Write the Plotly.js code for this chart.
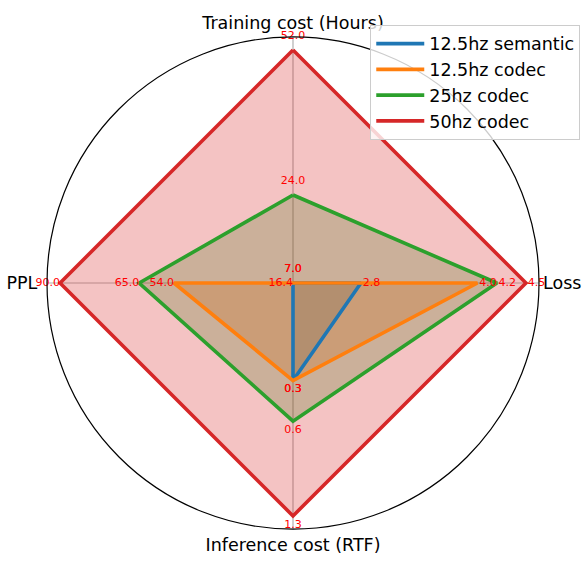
<!DOCTYPE html>
<html>
<head>
<meta charset="utf-8">
<script src="https://cdn.plot.ly/plotly-3.0.1.min.js"></script>
<style>html,body{margin:0;padding:0;background:#fff;}#chart{width:582px;height:563px;}</style>
</head>
<body>
<div id="chart"></div>
<script>
// ---- data ----
const axisNames = ["Training cost (Hours)", "Loss", "Inference cost (RTF)", "PPL"];
const seriesNames = ["12.5hz semantic", "12.5hz codec", "25hz codec", "50hz codec"];
const semantic125 = [7.0, 2.8, 0.3, 16.4];
const codec125 = [7.0, 4.0, 0.3, 54.0];
const codec25 = [24.0, 4.2, 0.6, 65.0];
const codec50 = [52.0, 4.5, 1.3, 90.0];
// per-axis scale (low, high) used to map each axis to the radius
const axisLow = [7.0, 2.1, -0.42, 16.4];
const axisHigh = [52.0, 4.5, 1.3, 90.0];

// ---- presentation ----
const angles = [90, 0, 270, 180];
const colors = ["#1f77b4", "#ff7f0e", "#2ca02c", "#d62728"];
const fills = ["rgba(31,119,180,0.27)", "rgba(255,127,14,0.27)", "rgba(44,160,44,0.27)", "rgba(214,39,40,0.28)"];
const labelOffset = [0.034, 0.045, 0.038, 0.0];
const labelPos = ["top center", "middle center", "middle center", "middle left"];
const tickLabels = axisNames.map((s, i) => i === 3 ? s + "\u00a0" : s);

const allSeries = [semantic125, codec125, codec25, codec50];
function norm(vals) { return vals.map((v, i) => (v - axisLow[i]) / (axisHigh[i] - axisLow[i])); }

const traces = [];
allSeries.forEach((vals, k) => {
  const r = norm(vals);
  traces.push({
    type: "scatterpolar", mode: "none",
    r: r.concat([r[0]]), theta: angles.concat([angles[0]]), thetaunit: "degrees",
    fill: "toself", fillcolor: fills[k],
    showlegend: false, hoverinfo: "skip"
  });
});
allSeries.forEach((vals, k) => {
  const r = norm(vals);
  traces.push({
    type: "scatterpolar", mode: "lines",
    r: r.concat([r[0]]), theta: angles.concat([angles[0]]), thetaunit: "degrees",
    name: seriesNames[k],
    line: {color: colors[k], width: 3.6},
    hoverinfo: "skip"
  });
});
allSeries.forEach((vals, k) => {
  const r = norm(vals).map((x, i) => x + labelOffset[i]);
  traces.push({
    type: "scatterpolar", mode: "text",
    r: r, theta: angles, thetaunit: "degrees",
    text: vals.map(v => v.toFixed(1)),
    textposition: labelPos, cliponaxis: false,
    textfont: {color: "red", size: 11, family: "DejaVu Sans"},
    showlegend: false, hoverinfo: "skip"
  });
});

const layout = {
  width: 582, height: 563,
  margin: {l: 47, r: 43, t: 37, b: 34, autoexpand: false},
  paper_bgcolor: "#fff",
  font: {family: "DejaVu Sans", color: "#000"},
  showlegend: true,
  legend: {
    xref: "container", yref: "container",
    x: 0.997, xanchor: "right", y: 0.956, yanchor: "top",
    bgcolor: "rgba(255,255,255,0.8)", bordercolor: "#cccccc", borderwidth: 1,
    font: {size: 17.5, family: "DejaVu Sans"}, tracegroupgap: 0, itemwidth: 48
  },
  polar: {
    bgcolor: "#fff",
    domain: {x: [0, 1], y: [0, 1]},
    radialaxis: {range: [0, 1.056], visible: false, showgrid: false},
    angularaxis: {
      thetaunit: "degrees", rotation: 0, direction: "counterclockwise",
      tickmode: "array", tickvals: angles, ticktext: tickLabels,
      ticks: "",
      showline: true, linecolor: "#000", linewidth: 1.2,
      showgrid: true, gridcolor: "#b0b0b0", gridwidth: 1.2,
      tickfont: {size: 17.5, family: "DejaVu Sans", color: "#000"}
    }
  }
};
Plotly.newPlot("chart", traces, layout, {displayModeBar: false, staticPlot: true});
</script>
</body>
</html>
